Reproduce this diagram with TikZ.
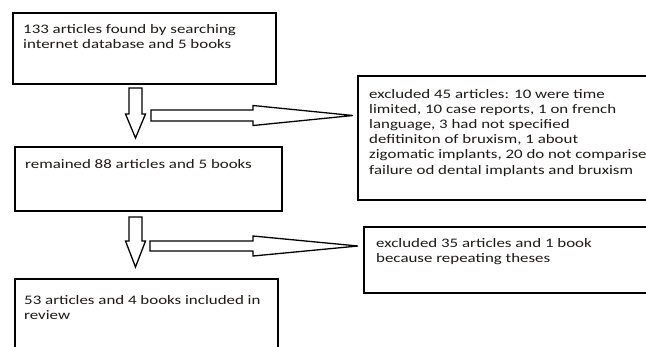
\documentclass[tikz,border=0pt]{standalone}
\usepackage{fontspec}
\setmainfont{Carlito}[FakeStretch=1.3]
\definecolor{txt}{HTML}{1E1A18}
\begin{document}
\begin{tikzpicture}[x=1pt,y=-1pt,
  boxst/.style={draw=black, line width=1.8pt},
  blockarrow/.style={draw=black, line width=1.3pt, fill=white, line join=miter},
  boxtext/.style={anchor=base west, inner sep=0pt, align=left, text=txt,
    font=\fontsize{13}{15.2}\selectfont}]
\clip (0,0) rectangle (646,346);
\fill[white] (0,0) rectangle (646,346);
% boxes
\draw[boxst] (13,13) rectangle (276,84);
\draw[boxst] (15,147) rectangle (282,211);
\draw[boxst] (15,279) rectangle (278,360);
\draw[boxst] (358,76) rectangle (660,200);
\draw[boxst, line width=2.2pt] (364,227) rectangle (660,293);
% texts (anchor = baseline of last line)
\node[boxtext] (t1) at (23,48.2) {133 articles found by searching\\internet database and 5 books};
\node[boxtext] (t2) at (25,168) {remained 88 articles and 5 books};
\node[boxtext] (t3) at (24,319.2) {53 articles and 4 books included in\\review};
\node[boxtext] (te1) at (369,174) {excluded 45 articles: 10 were time\\limited, 10 case reports, 1 on french\\language, 3 had not specified\\defitiniton of bruxism, 1 about\\zigomatic implants, 20 do not comparise\\failure od dental implants and bruxism};
\node[boxtext] (te2) at (376,262.2) {excluded 35 articles and 1 book\\because repeating theses};
% down arrows
\draw[blockarrow] (129,88) -- (142,88) -- (142,114) -- (145.5,114) -- (135.5,138) -- (125.5,114) -- (129,114) -- cycle;
\draw[blockarrow] (129,217) -- (142,217) -- (142,241) -- (145.5,241) -- (135.5,267) -- (125.5,241) -- (129,241) -- cycle;
% right arrows
\draw[blockarrow] (151,110) -- (253,110) -- (253,105.5) -- (353,115.5) -- (253,125.5) -- (253,121) -- (151,121) -- cycle;
\draw[blockarrow] (150,241) -- (253,241) -- (253,236) -- (358,246) -- (253,256) -- (253,251) -- (150,251) -- cycle;
\end{tikzpicture}
\end{document}
